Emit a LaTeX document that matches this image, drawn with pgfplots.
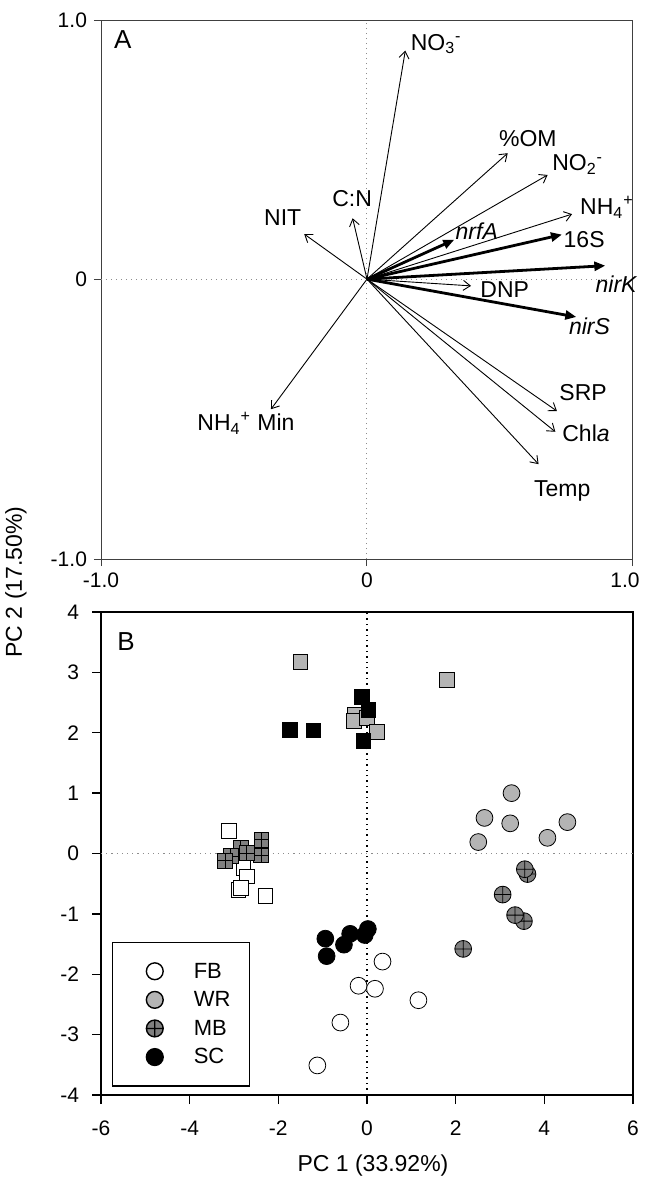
\documentclass[border=0pt]{standalone}
\usepackage{fontspec}
\setmainfont{Liberation Sans}
\usepackage{pgfplots}
\pgfplotsset{compat=1.18}
\usetikzlibrary{arrows.meta,plotmarks}

\definecolor{wrgray}{RGB}{180,180,180}
\definecolor{mbgray}{RGB}{128,128,128}
\definecolor{dotgray}{RGB}{140,140,140}

% filled square with a cross through it (MB squares)
\pgfdeclareplotmark{boxplus*}{%
  \pgfpathrectangle{\pgfqpoint{-\pgfplotmarksize}{-\pgfplotmarksize}}{\pgfqpoint{2\pgfplotmarksize}{2\pgfplotmarksize}}%
  \pgfusepathqfillstroke
  \pgfpathmoveto{\pgfqpoint{-\pgfplotmarksize}{0pt}}\pgfpathlineto{\pgfqpoint{\pgfplotmarksize}{0pt}}%
  \pgfpathmoveto{\pgfqpoint{0pt}{-\pgfplotmarksize}}\pgfpathlineto{\pgfqpoint{0pt}{\pgfplotmarksize}}%
  \pgfusepathqstroke
}

\tikzset{
  thinarr/.style={line width=0.45pt, black, -{Straight Barb[length=3.5pt,width=5pt]}},
  thickarr/.style={line width=1.4pt, black, -{Triangle[length=5.5pt,width=4.5pt]}},
  lbl/.style={anchor=west, inner sep=0pt, font=\fontsize{11.5}{13}\selectfont},
  pts/.style={only marks, mark options={line width=0.6pt, draw=black}},
}

\begin{document}
\begin{tikzpicture}
\useasboundingbox (0pt,0pt) rectangle (322pt,-590pt);

% ---------------- panel A: loadings ----------------
\begin{axis}[
  at={(50.5pt,-279.5pt)}, anchor=south west,
  scale only axis, width=266pt, height=269.5pt,
  xmin=-1, xmax=1, ymin=-1.08, ymax=1,
  xtick={-1,0,1}, xticklabels={-1.0,0,\makebox[0pt]{\hspace*{-8pt}1.0}},
  ytick={-1.08,0,1}, yticklabels={-1.0,0,1.0},
  tick align=outside, tick pos=left, major tick length=3.5pt,
  axis line style={line width=0.5pt, black!75},
  every tick/.style={line width=0.5pt, black!75},
  tick label style={font=\fontsize{10.5}{12}\selectfont},
  clip=false,
]
\addplot [dotgray, dotted, line width=0.5pt] coordinates {(-1,0) (1,0)};
\addplot [dotgray, dotted, line width=0.5pt] coordinates {(0,-1.08) (0,1)};

\addplot [thinarr] coordinates {(0,0) (0.144,0.882)};   % NO3-
\addplot [thinarr] coordinates {(0,0) (0.529,0.486)};   % %OM
\addplot [thinarr] coordinates {(0,0) (0.679,0.402)};   % NO2-
\addplot [thinarr] coordinates {(0,0) (0.771,0.251)};   % NH4+
\addplot [thinarr] coordinates {(0,0) (0.391,-0.026)};  % DNP
\addplot [thinarr] coordinates {(0,0) (0.714,-0.509)};  % SRP
\addplot [thinarr] coordinates {(0,0) (0.708,-0.589)};  % Chla
\addplot [thinarr] coordinates {(0,0) (0.645,-0.714)};  % Temp
\addplot [thinarr] coordinates {(0,0) (-0.361,-0.502)}; % NH4+ Min
\addplot [thinarr] coordinates {(0,0) (-0.236,0.174)};  % NIT
\addplot [thinarr] coordinates {(0,0) (-0.054,0.235)};  % C:N
\addplot [thickarr] coordinates {(0,0) (0.328,0.152)};  % nrfA
\addplot [thickarr] coordinates {(0,0) (0.733,0.172)};  % 16S
\addplot [thickarr] coordinates {(0,0) (0.896,0.052)};  % nirK
\addplot [thickarr] coordinates {(0,0) (0.787,-0.146)}; % nirS

\node[lbl] at (axis cs:0.163,0.908) {NO\textsubscript{3}\textsuperscript{-}};
\node[lbl] at (axis cs:0.495,0.541) {\%OM};
\node[lbl] at (axis cs:0.695,0.442) {NO\textsubscript{2}\textsuperscript{-}};
\node[lbl] at (axis cs:0.800,0.277) {NH\textsubscript{4}\textsuperscript{+}};
\node[lbl] at (axis cs:0.738,0.151) {16S};
\node[lbl] at (axis cs:0.332,0.187) {\textit{nrfA}};
\node[lbl] at (axis cs:0.858,-0.020) {\textit{nirK}};
\node[lbl] at (axis cs:0.425,-0.042) {DNP};
\node[lbl] at (axis cs:0.758,-0.180) {\textit{nirS}};
\node[lbl] at (axis cs:0.722,-0.437) {SRP};
\node[lbl] at (axis cs:0.733,-0.593) {Chl\textit{a}};
\node[lbl] at (axis cs:0.627,-0.816) {Temp};
\node[lbl] at (axis cs:-0.639,-0.557) {NH\textsubscript{4}\textsuperscript{+} Min};
\node[lbl] at (axis cs:-0.388,0.238) {NIT};
\node[lbl] at (axis cs:-0.132,0.309) {C:N};

\node[font=\fontsize{13}{15}\selectfont] at (rel axis cs:0.041,0.963) {A};
\end{axis}

% ---------------- panel B: scores ----------------
\begin{axis}[
  at={(50.5pt,-547.5pt)}, anchor=south west,
  scale only axis, width=266pt, height=241.5pt,
  xmin=-6, xmax=6, ymin=-4, ymax=4,
  xtick={-6,-4,-2,0,2,4,6}, xticklabels={-6,-4,-2,0,2,4,6},
  ytick={-4,-3,-2,-1,0,1,2,3,4}, yticklabels={-4,-3,-2,-1,0,1,2,3,4},
  tick align=outside, tick pos=left, major tick length=4.5pt,
  axis line style={line width=0.7pt, black},
  every tick/.style={line width=0.7pt, black},
  tick label style={font=\fontsize{10.5}{12}\selectfont},
  xticklabel style={yshift=-5pt},
  yticklabel style={xshift=-3pt},
  clip=false,
  legend style={at={(axis cs:-5.75,-3.86)}, anchor=south west, draw=black,
    line width=0.7pt, fill=white, font=\fontsize{11}{12}\selectfont,
    inner xsep=8pt, inner ysep=8.5pt, row sep=2.5pt, column sep=8pt,
    nodes={inner sep=1.5pt, text height=7.8pt, text depth=1pt}},
  legend cell align=left,
  legend image code/.code={\draw[#1] plot coordinates {(0pt,0pt)}; \path[draw=none,fill=none] (-13pt,-4pt) rectangle (10pt,4pt);},
]
\addplot [black, dotted, line width=0.7pt, forget plot] coordinates {(0,-4) (0,4)};
\addplot [dotgray, dotted, line width=0.6pt, forget plot] coordinates {(-6,0) (6,0)};

% squares
\addplot [pts, forget plot, mark=square*, mark size=3.7pt, mark options={fill=white}] table {
x y
-3.11 0.37
-2.79 -0.24
-2.71 -0.38
-2.90 -0.60
-2.85 -0.57
-2.29 -0.70
};
\addplot [pts, forget plot, mark=square*, mark size=3.7pt, mark options={fill=wrgray}] table {
x y
-1.50 3.18
1.80 2.87
-0.28 2.30
-0.30 2.20
0.00 2.25
0.22 2.01
};
\addplot [pts, forget plot, mark=boxplus*, mark size=3.7pt, mark options={fill=mbgray}] table {
x y
-2.38 0.23
-2.39 -0.03
-2.85 0.09
-2.71 0.01
-3.07 -0.04
-3.20 -0.12
};
\addplot [pts, forget plot, mark=square*, mark size=3.7pt, mark options={fill=black}] table {
x y
-1.74 2.05
-1.21 2.04
-0.11 2.60
0.03 2.38
-0.08 1.86
};

% circles
\addplot [pts, mark=*, mark size=4.2pt, mark options={fill=white}] table {
x y
0.35 -1.79
-0.19 -2.19
0.18 -2.24
1.16 -2.43
-0.60 -2.80
-1.12 -3.51
};
\addlegendentry{FB}
\addplot [pts, mark=*, mark size=4.2pt, mark options={fill=wrgray}] table {
x y
3.26 1.00
2.65 0.59
3.23 0.50
4.52 0.52
4.07 0.26
2.51 0.19
};
\addlegendentry{WR}
\addplot [pts, mark=oplus*, mark size=4.2pt, mark options={fill=mbgray}] table {
x y
3.62 -0.34
3.56 -0.26
3.06 -0.68
3.54 -1.12
3.34 -1.02
2.17 -1.58
};
\addlegendentry{MB}
\addplot [pts, mark=*, mark size=4.2pt, mark options={fill=black}] table {
x y
-0.94 -1.41
-0.91 -1.70
-0.52 -1.51
-0.38 -1.33
-0.05 -1.35
0.02 -1.25
};
\addlegendentry{SC}

\node[font=\fontsize{13}{15}\selectfont] at (rel axis cs:0.047,0.938) {B};
\end{axis}

\node[rotate=90, font=\fontsize{11.5}{13}\selectfont] at (8pt,-291pt) {PC 2 (17.50\%)};
\node[font=\fontsize{11.5}{13}\selectfont] at (186.5pt,-583pt) {PC 1 (33.92\%)};
\end{tikzpicture}
\end{document}
